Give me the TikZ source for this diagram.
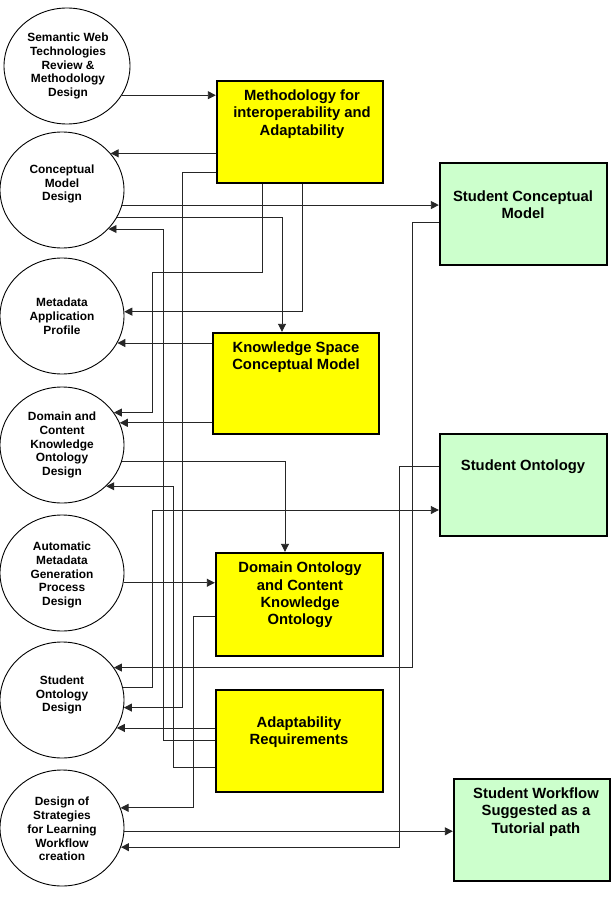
\documentclass[tikz,border=0pt]{standalone}
\usepackage{fontspec}
\setmainfont{Liberation Sans}
\usetikzlibrary{arrows.meta,shapes.geometric}
\definecolor{byellow}{RGB}{255,255,0}
\definecolor{bgreen}{RGB}{204,255,204}
\begin{document}
\begin{tikzpicture}[x=1pt,y=-1pt,
  circ/.style={ellipse,draw=black,line width=0.9pt,inner sep=0pt,minimum width=124pt,minimum height=116pt},
  ybox/.style={draw=black,line width=2.4pt,fill=byellow,inner sep=0pt},
  gbox/.style={draw=black,line width=2.4pt,fill=bgreen,inner sep=0pt},
  ctext/.style={align=center,font=\fontsize{11.9}{13.8}\selectfont\bfseries,inner sep=0pt},
  btext/.style={align=center,font=\fontsize{14.8}{17.4}\selectfont\bfseries,inner sep=0pt},
  conn/.style={draw=black!85,line width=0.9pt},
  arr/.style={conn,-{Triangle[length=8pt,width=8pt]}}
]
\fill[white] (0,0) rectangle (612,909);
\useasboundingbox (0,0) rectangle (612,909);

% circles
\node[circ,minimum width=126pt] (c1) at (67,66) {};
\node[circ] (c2) at (62,190) {};
\node[circ] (c3) at (62,316) {};
\node[circ] (c4) at (62,445) {};
\node[circ] (c5) at (62,573) {};
\node[circ] (c6) at (62,700) {};
\node[circ] (c7) at (62,828) {};

\node[ctext] (t1) at (68,66) {Semantic Web\\Technologies\\Review \&\\Methodology\\Design};
\node[ctext] (t2) at (62,184) {Conceptual\\Model\\Design};
\node[ctext] (t3) at (62,316) {Metadata\\Application\\Profile};
\node[ctext] (t4) at (62,445) {Domain and\\Content\\Knowledge\\Ontology\\Design};
\node[ctext] (t5) at (62,575) {Automatic\\Metadata\\Generation\\Process\\Design};
\node[ctext] (t6) at (62,695) {Student\\Ontology\\Design};
\node[ctext] (t7) at (62,829) {Design of\\Strategies\\for Learning\\Workflow\\creation};

% boxes
\node[ybox,minimum width=166pt,minimum height=102pt] (A) at (300,132) {};
\node[ybox,minimum width=166pt,minimum height=101pt] (B) at (296,383.5) {};
\node[ybox,minimum width=167pt,minimum height=103pt] (C) at (299.5,604.5) {};
\node[ybox,minimum width=167pt,minimum height=102pt] (D) at (299.5,741) {};
\node[gbox,minimum width=167pt,minimum height=102pt] (E) at (523.5,214) {};
\node[gbox,minimum width=167pt,minimum height=102pt] (F) at (523.5,485) {};
\node[gbox,minimum width=156pt,minimum height=102pt] (G) at (532,830) {};

\node[btext] (At) at (302,114) {Methodology for\\interoperability and\\Adaptability};
\node[btext] (Bt) at (296,357) {Knowledge Space\\Conceptual Model};
\node[btext] (Ct) at (300,595) {Domain Ontology\\and Content\\Knowledge\\Ontology};
\node[btext] (Dt) at (299,732) {Adaptability\\Requirements};
\node[btext] (Et) at (523,205) {Student Conceptual\\Model};
\node[btext] (Ft) at (523,467) {Student Ontology};
\node[btext] (Gt) at (536,812) {Student Workflow\\Suggested as a\\Tutorial path};

% corridor columns and rows
\coordinate (xa) at (152,0);
\coordinate (xb) at (163,0);
\coordinate (xc) at (173,0);
\coordinate (xd) at (182,0);
\coordinate (xe) at (193,0);
\coordinate (xf) at (262,0);
\coordinate (xg) at (282,0);
\coordinate (xh) at (285,0);
\coordinate (xi) at (302,0);
\coordinate (xj) at (399,0);
\coordinate (xk) at (412,0);
\coordinate (r172) at (0,172);
\coordinate (r222) at (0,222);
\coordinate (r272) at (0,272);
\coordinate (r466) at (0,466);
\coordinate (r510) at (0,510);
\coordinate (r616) at (0,616);
\coordinate (r740) at (0,740);
\coordinate (r767) at (0,767);

% connectors
\draw[arr] (c1.-28) -- (c1.-28 -| A.west);
\draw[arr] (A.west |- c2.37) -- (c2.37);
\draw[arr] (A.west |- r172) -- (xd |- r172) -- (xd |- c6.-7) -- (c6.-7);
\draw[arr] (c2.-14) -- (c2.-14 -| E.west);
\draw[arr] (c2.-26) -- (xg |- c2.-26) -- (xg |- B.north);
\draw[arr] (E.west |- r222) -- (xk |- r222) -- (xk |- c6.32) -- (c6.32);
\draw[arr] (D.west |- r740) -- (xb |- r740) -- (xb |- c2.-40) -- (c2.-40);
\draw[arr] (A.south -| xf) -- (xf |- r272) -- (xa |- r272) -- (xa |- c4.32) -- (c4.32);
\draw[arr] (A.south -| xi) -- (xi |- c3.4) -- (c3.4);
\draw[arr] (B.west |- c3.-26) -- (c3.-26);
\draw[arr] (B.west |- c4.21) -- (c4.21);
\draw[arr] (c4.-15) -- (xh |- c4.-15) -- (xh |- C.north);
\draw[arr] (F.west |- r466) -- (xj |- r466) -- (xj |- c7.-18) -- (c7.-18);
\draw[arr] (D.west |- r767) -- (xc |- r767) -- (xc |- c4.-43) -- (c4.-43);
\draw[arr] (c6.12) -- (xa |- c6.12) -- (xa |- r510) -- (F.west |- r510);
\draw[arr] (c5.-9) -- (c5.-9 -| C.west);
\draw[arr] (C.west |- r616) -- (xe |- r616) -- (xe |- c7.19) -- (c7.19);
\draw[arr] (D.west |- c6.-27) -- (c6.-27);
\draw[arr] (c7.-3) -- (c7.-3 -| G.west);
\end{tikzpicture}
\end{document}
